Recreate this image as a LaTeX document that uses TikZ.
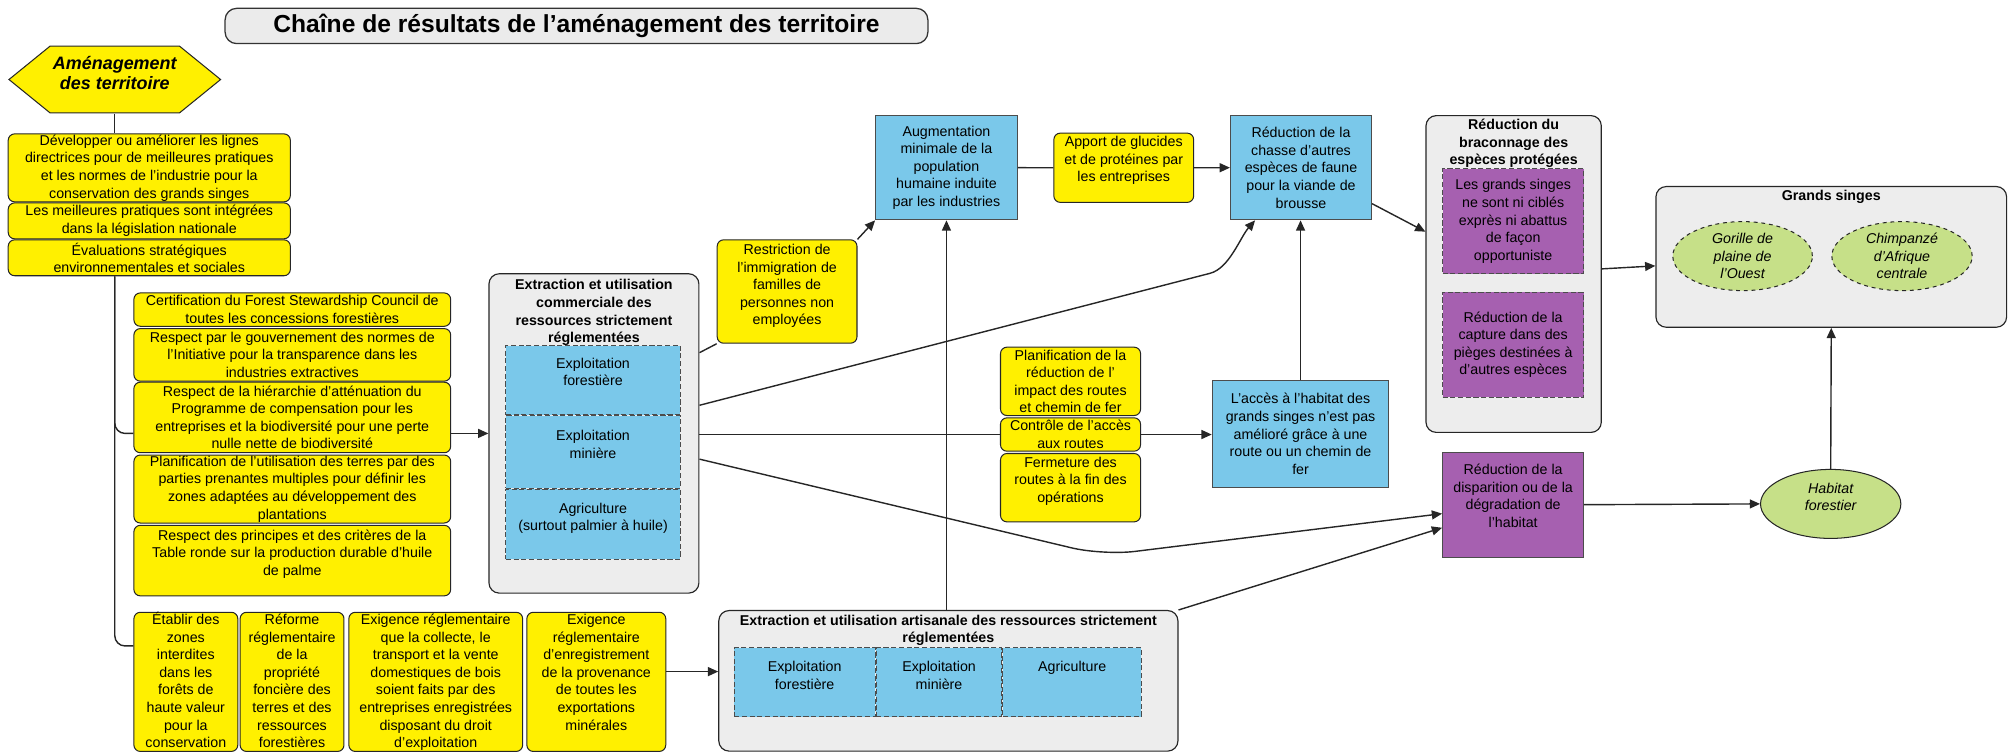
\documentclass[tikz,border=0pt]{standalone}
\usepackage{fontspec}
\setmainfont{Liberation Sans}
\usetikzlibrary{positioning,shapes.geometric,arrows.meta}
\definecolor{ylw}{RGB}{255,240,0}
\definecolor{blu}{RGB}{122,200,234}
\definecolor{prp}{RGB}{166,96,176}
\definecolor{grn}{RGB}{198,224,136}
\newcommand{\bodyf}{\fontsize{11.1}{13.7}\selectfont}
\newcommand{\tbx}[4][2pt]{\parbox[c][#3][t]{#2}{\centering\vspace*{#1}\strut#4\par}}

\begin{document}
\begin{tikzpicture}[x=1pt, y=-1pt, font=\bodyf, line width=1.1pt, draw=black!85, >={Triangle[length=8pt,width=7pt]},
  yl/.style = {draw=black!85, line width=0.8pt, fill=ylw, rounded corners=5pt, inner sep=0pt, align=center},
  bl/.style = {draw=black!70, line width=0.8pt, fill=blu, inner sep=0pt, align=center},
  bld/.style = {bl, dash pattern=on 4pt off 2pt},
  pr/.style = {draw=black!70, line width=0.8pt, fill=prp, inner sep=0pt, align=center},
  prd/.style = {pr, dash pattern=on 4pt off 2pt},
  grp/.style = {draw=black!85, line width=0.9pt, fill=black!7, rounded corners=8pt, inner sep=0pt, align=center},
  gn/.style = {ellipse, draw=black!85, line width=0.8pt, fill=grn, inner sep=0pt, align=center, font=\bodyf\itshape},
  ttl/.style = {draw=black!80, line width=1pt, fill=black!8, rounded corners=9pt, inner sep=0pt, font=\fontsize{19.2}{22}\selectfont\bfseries}]
\useasboundingbox (0,0) rectangle (1568,585.6);

% titre et point de depart
\node[ttl, anchor=north west, minimum width=548pt, minimum height=27.5pt] (tt) at (175,6) {Chaîne de résultats de l'aménagement des territoire};
\draw[line width=0.8pt, fill=ylw] (7,62) -- (39,36) -- (140,36) -- (172,62) -- (140,88) -- (39,88) -- cycle;
\node[align=center, inner sep=0pt, minimum height=62pt, font=\fontsize{14}{15.5}\selectfont\bfseries\itshape] (amt) at (89.5,57) {Aménagement\\des territoire};

% colonne de gauche
\node[yl, anchor=north west, minimum width=220pt, minimum height=53pt] (y1) at (6,104) {Développer ou améliorer les lignes\\directrices pour de meilleures pratiques\\et les normes de l'industrie pour la\\conservation des grands singes};
\node[yl, minimum width=220pt, minimum height=28pt, below=0pt of y1] (y2) {Les meilleures pratiques sont intégrées\\dans la législation nationale};
\node[yl, minimum width=220pt, minimum height=28pt, below=0pt of y2] (y3) {Évaluations stratégiques\\environnementales et sociales};

\node[yl, anchor=north west, minimum width=247pt, minimum height=26pt] (c1) at (104,228) {Certification du Forest Stewardship Council de\\toutes les concessions forestières};
\node[yl, minimum width=247pt, minimum height=41pt, below=1pt of c1] (c2) {Respect par le gouvernement des normes de\\l'Initiative pour la transparence dans les\\industries extractives};
\node[yl, minimum width=247pt, minimum height=55pt, below=0pt of c2] (c3) {Respect de la hiérarchie d'atténuation du\\Programme de compensation pour les\\entreprises et la biodiversité pour une perte\\nulle nette de biodiversité};
\node[yl, minimum width=247pt, minimum height=53pt, below=1pt of c3] (c4) {Planification de l'utilisation des terres par des\\parties prenantes multiples pour définir les\\zones adaptées au développement des\\plantations};
\node[yl, below=1pt of c4] (c5) {\tbx{247pt}{55pt}{Respect des principes et des critères de la\\Table ronde sur la production durable d'huile\\de palme}};

% extraction commerciale
\node[grp, anchor=north west] (g1) at (380.8,213) {\tbx[3pt]{163.7pt}{249pt}{\bfseries Extraction et utilisation\\commerciale des\\ressources strictement\\réglementées}};
\node[bld, anchor=north west] (gf) at (394,269) {\tbx[8pt]{136pt}{54pt}{Exploitation\\forestière}};
\node[bld, below=0pt of gf] (gm) {\tbx[10pt]{136pt}{56.5pt}{Exploitation\\minière}};
\node[bld, below=0pt of gm] (ga) {\tbx[9pt]{136pt}{54.5pt}{Agriculture\\(surtout palmier à huile)}};

% milieu
\node[yl, anchor=north west] (restr) at (558.8,186.6) {\tbx{109pt}{80.6pt}{Restriction de\\l'immigration de\\familles de\\personnes non\\employées}};
\node[bl, anchor=north west, minimum width=110.5pt, minimum height=81.3pt] (aug) at (682.3,89.7) {Augmentation\\minimale de la\\population\\humaine induite\\par les industries};
\node[yl, anchor=north west] (apt) at (821.3,103.4) {\tbx[1pt]{109pt}{54pt}{Apport de glucides\\et de protéines par\\les entreprises}};
\node[bl, anchor=north west, minimum width=110pt, minimum height=81.3pt] (chs) at (959,89.7) {Réduction de la\\chasse d'autres\\espèces de faune\\pour la viande de\\brousse};

\node[yl, anchor=north west, minimum width=109.2pt, minimum height=53.3pt] (pln) at (779.7,270.3) {Planification de la\\réduction de l'\\impact des routes\\et chemin de fer};
\node[yl, minimum width=109.2pt, minimum height=26pt, below=1pt of pln] (ctl) {Contrôle de l'accès\\aux routes};
\node[yl, below=1pt of ctl] (frm) {\tbx[1pt]{109.2pt}{53.3pt}{Fermeture des\\routes à la fin des\\opérations}};
\node[bl, anchor=north west, minimum width=137.7pt, minimum height=83.2pt] (acc) at (944.8,296.3) {L'accès à l'habitat des\\grands singes n'est pas\\amélioré grâce à une\\route ou un chemin de\\fer};

% braconnage et habitat
\node[grp, anchor=north west] (brc) at (1111.4,89.7) {\tbx[1.5pt]{136.7pt}{247pt}{\bfseries Réduction du\\braconnage des\\espèces protégées}};
\node[prd, anchor=north west, minimum width=110pt, minimum height=81.8pt] (pr1) at (1124.4,131.3) {Les grands singes\\ne sont ni ciblés\\exprès ni abattus\\de façon\\opportuniste};
\node[prd, anchor=north west, minimum width=110pt, minimum height=81.9pt] (pr2) at (1124.4,227.4) {Réduction de la\\capture dans des\\pièges destinées à\\d'autres espèces};
\node[pr, anchor=north west] (pdg) at (1124.4,352.2) {\tbx[8pt]{110pt}{81.8pt}{Réduction de la\\disparition ou de la\\dégradation de\\l'habitat}};

\node[grp, anchor=north west] (gs) at (1290.7,145) {\tbx[1pt]{273.4pt}{109.7pt}{\bfseries Grands singes}};
\node[gn, dashed, minimum width=108.8pt, minimum height=53.8pt] (gor) at (1358.7,199.7) {Gorille de\\plaine de\\l'Ouest};
\node[gn, dashed, minimum width=109.4pt, minimum height=53.8pt] (chi) at (1483,199.7) {Chimpanzé\\d'Afrique\\centrale};
\node[gn, minimum width=109.4pt, minimum height=53.8pt] (hab) at (1427.4,392.9) {\tbx[1pt]{70pt}{38pt}{Habitat\\forestier}};

% extraction artisanale
\node[grp, anchor=north west] (art) at (560,475.6) {\tbx{358pt}{109.6pt}{\bfseries Extraction et utilisation artisanale des ressources strictement\\réglementées}};
\node[bld, anchor=north west] (af) at (572,504.7) {\tbx[9pt]{110pt}{53.6pt}{Exploitation\\forestière}};
\node[bld, right=0pt of af] (am) {\tbx[9pt]{98pt}{53.6pt}{Exploitation\\minière}};
\node[bld, right=0pt of am] (aa) {\tbx[9pt]{108pt}{53.6pt}{Agriculture}};

% rangee du bas
\node[yl, anchor=north west] (etb) at (104,477) {\tbx[0pt]{81pt}{108.5pt}{Établir des\\zones\\interdites\\dans les\\forêts de\\haute valeur\\pour la\\conservation}};
\node[yl, right=1pt of etb] (rfm) {\tbx[0pt]{81pt}{108.5pt}{Réforme\\réglementaire\\de la\\propriété\\foncière des\\terres et des\\ressources\\forestières}};
\node[yl, right=3pt of rfm] (ex1) {\tbx[0pt]{135.5pt}{108.5pt}{Exigence réglementaire\\que la collecte, le\\transport et la vente\\domestiques de bois\\soient faits par des\\entreprises enregistrées\\disposant du droit\\d'exploitation}};
\node[yl, right=2.5pt of ex1] (ex2) {\tbx[0pt]{108.3pt}{108.5pt}{Exigence\\réglementaire\\d'enregistrement\\de la provenance\\de toutes les\\exportations\\minérales}};

% liens
\draw (amt.south) -- (amt.south |- y1.north);
\draw[rounded corners=8pt] (amt.south |- y3.south) |- (c3.west |- g1.west);
\draw[rounded corners=8pt] (amt.south |- y3.south) |- ([yshift=28pt]etb.west);
\draw[->] (c3.east |- g1.west) -- (g1.west);
\draw ([yshift=-62pt]g1.north east) -- (restr.south west);
\draw[->] (restr.north east) -- (aug.south west);
\draw[->] (aug.south |- art.north) -- (aug.south);
\draw (aug.east) -- (apt.west);
\draw[->] (apt.east) -- (chs.west);
\draw[->] ([yshift=-103pt]g1.north east) -- (943.5,213.1) .. controls (958.5,209.2) and (967,185) .. ([xshift=19.6pt]chs.south west);
\draw (g1.east |- ctl.west) -- (ctl.west);
\draw[->] (ctl.east) -- (acc.west |- ctl.east);
\draw[->] (acc.north) -- (acc.north |- chs.south);
\draw[->] ([yshift=13pt]chs.south east) -- ([yshift=33pt]brc.west);
\draw[->] ([yshift=4pt]brc.east) -- ([yshift=-7pt]gs.west);
\draw[->, rounded corners=25pt] ([yshift=-145pt]g1.north east) -- (860,433) -- ([yshift=-7pt]pdg.west);
\draw[->] (art.north east) -- ([yshift=-18pt]pdg.west);
\draw[->] (pdg.east) -- (hab.west);
\draw[->] (hab.north) -- (gs.south);
\draw[->] ([yshift=8pt]ex2.east) -- ([yshift=8pt]ex2.east -| art.west);
\end{tikzpicture}
\end{document}
